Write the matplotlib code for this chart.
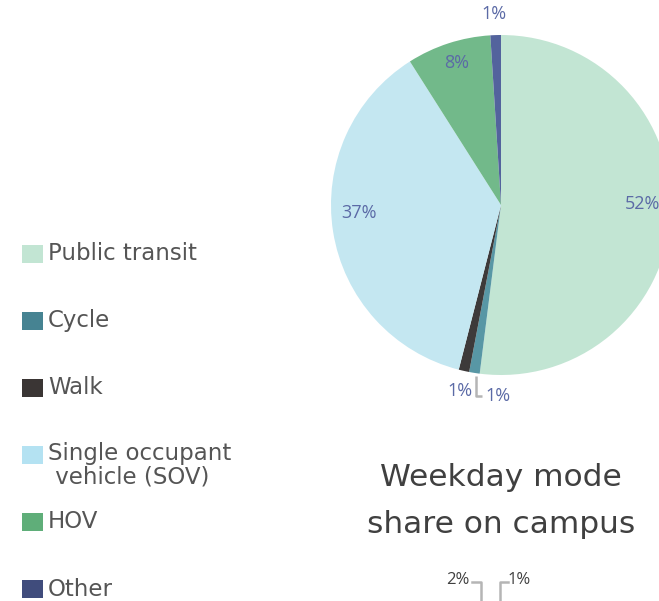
import matplotlib
matplotlib.use("Agg")
import matplotlib.pyplot as plt
import numpy as np
from matplotlib.patches import Rectangle

categories = ["Public transit", "Cycle", "Walk", "Single occupant\n vehicle (SOV)", "HOV", "Other"]
values = [52, 1, 1, 37, 8, 1]
pie_colors = ["#c2e5d3", "#5897a5", "#3d3a3a", "#c4e7f1", "#72b98a", "#53639d"]
legend_colors = ["#c2e5d3", "#468392", "#3a3534", "#b4e2f2", "#5fae79", "#404c7c"]
title = "Weekday mode\nshare on campus"
# Labels of a second chart cut off at the bottom of the picture
lower_labels = ["2%", "1%"]

W, H = 659, 601
fig = plt.figure(figsize=(W / 100, H / 100), dpi=100)
fig.patch.set_facecolor("white")

font = "DejaVu Sans"
label_font = "Open Sans"
label_color = "#5b6aa6"
text_color = "#404040"
legend_text_color = "#555555"
line_color = "#b5b5b5"

# Pie axes: centre (501,205) px, radius 170 px
cx, cy, r = 501, 205, 170
pax = fig.add_axes([(cx - r) / W, (H - cy - r) / H, 2 * r / W, 2 * r / H])
pax.pie(values, colors=pie_colors, startangle=90, counterclock=False, radius=1,
        wedgeprops=dict(linewidth=0))
pax.set_xlim(-1, 1)
pax.set_ylim(-1, 1)
pax.set_aspect("auto")
pax.axis("off")

# Overlay axes in pixel coordinates
ax = fig.add_axes([0, 0, 1, 1], zorder=5)
ax.set_xlim(0, W)
ax.set_ylim(H, 0)
ax.axis("off")

# Data labels (pixel positions)
label_pos = [(625, 204, "left"), (485, 396, "left"), (460, 391, "center"),
             (359, 213, "center"), (457, 63, "center"), (494, 14, "center")]
for v, (x, y, ha) in zip(values, label_pos):
    ax.text(x, y, f"{v}%", color=label_color, fontsize=13, family=label_font,
            ha=ha, va="center")

# leader line for cycle label
ax.plot([475.5, 475.5, 482], [376, 396, 396], color=line_color, lw=1.8,
        solid_capstyle="butt")

# Legend
leg_y = [254, 321, 388, 455, 522, 589]
for name, col, y in zip(categories, legend_colors, leg_y):
    ax.add_patch(Rectangle((22, y - 9), 21, 18, facecolor=col, edgecolor="none"))
    if "\n" in name:
        ax.text(48, y - 13, name, color=legend_text_color, fontsize=16.5,
                family=font, va="top", linespacing=1.0)
    else:
        ax.text(48, y, name, color=legend_text_color, fontsize=16.5,
                family=font, va="center")

# Title
ax.text(501, 501, title, color=text_color, fontsize=22.5, family=font,
        ha="center", va="center", linespacing=1.78)

# Bottom labels (second chart cut off)
ax.text(458, 580, lower_labels[0], color=text_color, fontsize=12, family=label_font,
        ha="center", va="center")
ax.text(519, 580, lower_labels[1], color=text_color, fontsize=12, family=label_font,
        ha="center", va="center")
ax.plot([472, 480.5, 480.5], [582, 582, 601], color=line_color, lw=1.8)
ax.plot([508, 499.5, 499.5], [582, 582, 601], color=line_color, lw=1.8)

fig.savefig("out.png", dpi=100, facecolor="white")
